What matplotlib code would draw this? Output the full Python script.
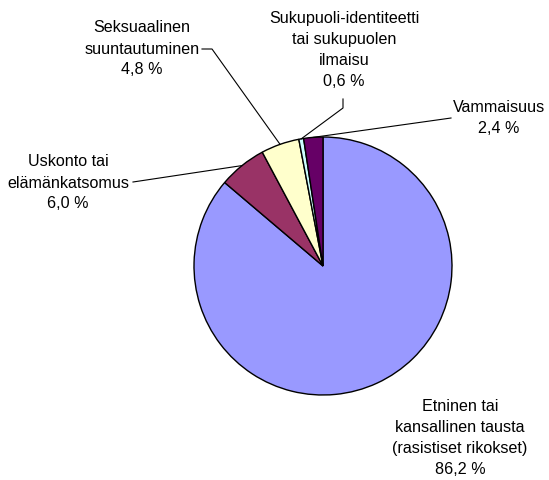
import numpy as np
import matplotlib
matplotlib.use('Agg')
import matplotlib.pyplot as plt

# data
labels = ['Etninen tai\nkansallinen tausta\n(rasistiset rikokset)',
          'Uskonto tai\nelämänkatsomus',
          'Seksuaalinen\nsuuntautuminen',
          'Sukupuoli-identiteetti\ntai sukupuolen\nilmaisu',
          'Vammaisuus']
values = [86.2, 6.0, 4.8, 0.6, 2.4]
colors = ['#9999FF', '#993366', '#FFFFCC', '#CCFFFF', '#660066']

W, H = 549, 480
plt.rcParams['font.family'] = ['Liberation Sans', 'DejaVu Sans']

fig = plt.figure(figsize=(W / 100, H / 100), dpi=100)
ax = fig.add_axes([0, 0, 1, 1])

cx, cy, r = 323, H - 266, 129
wedges, _ = ax.pie(values, colors=colors, startangle=90, counterclock=False,
                   center=(cx, cy), radius=r, frame=True,
                   wedgeprops=dict(edgecolor='black', linewidth=1.0))
ax.set_xlim(0, W)
ax.set_ylim(0, H)
ax.set_aspect('equal')
ax.axis('off')


def edge_point(w):
    a = np.deg2rad((w.theta1 + w.theta2) / 2)
    return cx + r * np.cos(a), cy + r * np.sin(a)


def fmt(v):
    return ('%.1f %%' % v).replace('.', ',')


# label positions (pixel coords from top) and leader line elbows
label_pos = [(460, 438), (68, 183), (142, 49), (344, 50), (499, 118)]
elbows = [None,
          [(133, 182)],
          [(202, 49), (212, 49)],
          [(343, 99), (343, 108)],
          [(451, 118), (444, 119)]]

for w, lab, v, (tx, ty), el in zip(wedges, labels, values, label_pos, elbows):
    ax.text(tx, H - ty, lab + '\n' + fmt(v), ha='center', va='center',
            fontsize=11.6, linespacing=1.5, color='black')
    if el is not None:
        pts = [(x, H - y) for x, y in el] + [edge_point(w)]
        xs, ys = zip(*pts)
        ax.plot(xs, ys, color='black', linewidth=0.8)

fig.savefig('out.png', dpi=100)
